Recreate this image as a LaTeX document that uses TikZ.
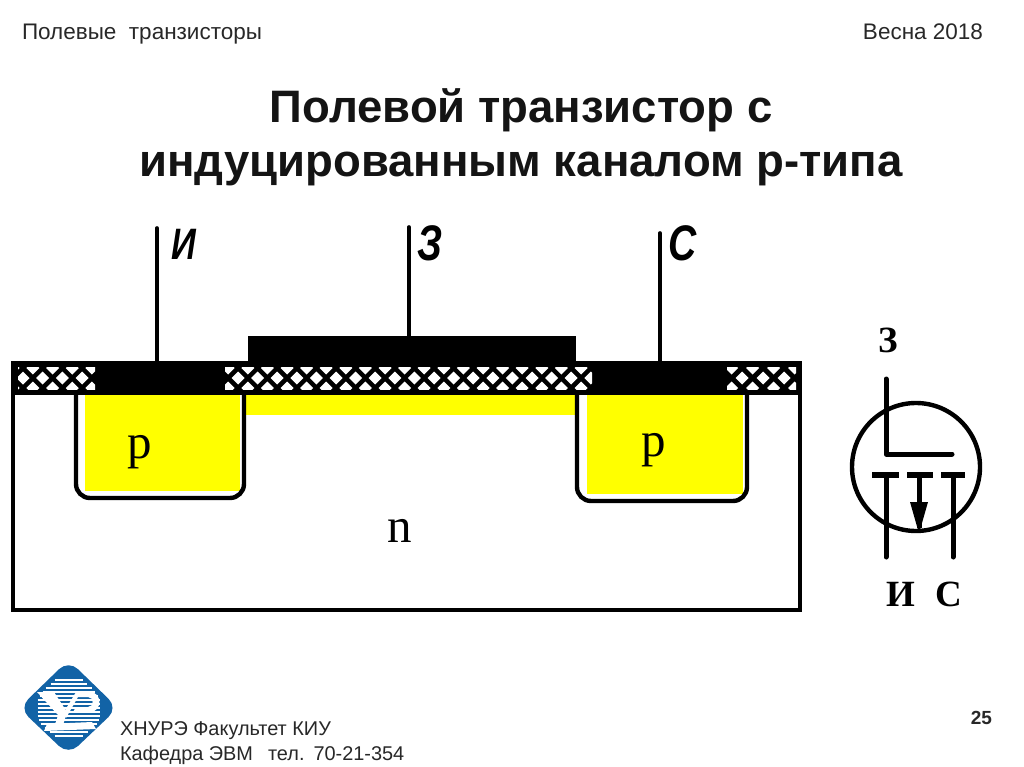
\documentclass[tikz,border=0pt]{standalone}
\usepackage{fontspec}
\usepackage{graphicx}
\setmainfont{Liberation Sans}
\newfontfamily\serifcyr{Liberation Serif}
\definecolor{yl}{RGB}{255,255,0}
\definecolor{logob}{RGB}{18,99,166}
\definecolor{hdrc}{RGB}{40,40,40}
\newcommand{\hatchrun}[3]{%
  \foreach \i in {0,...,#3} {
    \pgfmathsetmacro{\cx}{#1+#2*\i}
    \pgfmathsetmacro{\hx}{#2/2}
    \fill[white] (\cx-6.5,378) -- (\cx,371.5) -- (\cx+6.5,378) -- (\cx,384.5) -- cycle;
    \fill[white] (\cx-\hx-6.5,368) -- (\cx-\hx,361.5) -- (\cx-\hx+6.5,368) -- (\cx-\hx,374.5) -- cycle;
    \fill[white] (\cx-\hx-6.5,388) -- (\cx-\hx,381.5) -- (\cx-\hx+6.5,388) -- (\cx-\hx,394.5) -- cycle;
  }}
\newcommand{\handtxt}[2]{\fontsize{#1}{#1}\selectfont\scalebox{0.78}[1]{#2}}
\begin{document}
\begin{tikzpicture}[x=1pt,y=-1pt,
  every node/.style={inner sep=0pt,outer sep=0pt},
  hdr/.style={font=\fontsize{22.5}{22.5}\selectfont,text=hdrc},
  ttl/.style={font=\bfseries\fontsize{45.5}{45.5}\selectfont,text=black!92,anchor=base},
  ftr/.style={font=\fontsize{19.9}{19.9}\selectfont,text=hdrc,anchor=base west},
  wire/.style={line width=3.6pt,line cap=round},
  outline/.style={line width=4pt},
  well/.style={line width=4.4pt,rounded corners=14pt},
  yel/.style={fill=yl,draw=none},
  letter/.style={font=\serifcyr\fontsize{49}{49}\selectfont},
  handlab/.style={font=\bfseries\itshape},
  symlab/.style={font=\serifcyr\bfseries\fontsize{37}{37}\selectfont},
  sym/.style={line width=5pt},
  symbar/.style={line width=5.5pt}]
\useasboundingbox (0,0) rectangle (1024,767);
\fill[white] (0,0) rectangle (1024,767);

% headers and title
\node[hdr,anchor=base west] (hl) at (22,40) {Полевые\ \ транзисторы};
\node[hdr,anchor=base east] (hr) at (983,40) {Весна 2018};
\node[ttl] (t1) at (521,123) {Полевой транзистор с};
\node[ttl] (t2) at (521,177) {индуцированным каналом р-типа};

% yellow regions
\fill[yel] (85,395) rectangle (240,491);
\fill[yel] (587,395) rectangle (743,494);
\fill[yel] (246,395) rectangle (575,415);

% substrate
\draw[outline] (13,392) -- (13,610) -- (800,610) -- (800,392);

% wells
\draw[well] (76,392) -- (76,498) -- (244,498) -- (244,392);
\draw[well] (577,392) -- (577,501) -- (747,501) -- (747,392);

% oxide band with hatch
\fill[black] (11,361) rectangle (802,395);
\begin{scope}
  \clip (18,367) rectangle (95,389);
  \hatchrun{23}{19.7}{4}
\end{scope}
\begin{scope}
  \clip (225,367) rectangle (592,389);
  \hatchrun{238}{19.6}{18}
\end{scope}
\begin{scope}
  \clip (727,367) rectangle (796,389);
  \hatchrun{742}{21}{3}
\end{scope}
% metal contacts
\fill[black] (248,336) rectangle (576,362);

% terminals
\coordinate (si) at (157,361);
\coordinate (gi) at (409,337);
\coordinate (di) at (660,361);
\coordinate (sit) at (157,228);
\coordinate (git) at (409,227);
\coordinate (dit) at (660,233);
\draw[wire] (sit) -- (si);
\draw[wire] (git) -- (gi);
\draw[wire] (dit) -- (di);
\node[handlab] (li) at (184,244) {\handtxt{44}{И}};
\node[handlab] (lg) at (430,243) {\handtxt{50}{З}};
\node[handlab] (ld) at (683,243) {\handtxt{50}{С}};

% region letters
\node[letter] (p1) at (140,452) {p};
\node[letter] (p2) at (654,450) {p};
\node[letter] (nn) at (400,531) {n};

% FET symbol
\draw[line width=4.4pt] (916,467) circle (64);
\coordinate (g0) at (886,379);
\coordinate (g1) at (886,454);
\coordinate (g2) at (952,454);
\draw[sym,line cap=round,line join=round] (g0) -- (g1) -- (g2);
\draw[symbar] (872,475) -- (899,475);
\draw[symbar] (907,475) -- (933,475);
\draw[symbar] (941,475) -- (965,475);
\coordinate (s1) at (886,475); \coordinate (s2) at (886,557);
\coordinate (d1) at (953,475); \coordinate (d2) at (953,557);
\coordinate (b1) at (919,475); \coordinate (b2) at (919,528);
\draw[sym,line cap=round] (s1) -- (s2);
\draw[sym,line cap=round] (d1) -- (d2);
\draw[sym] (b1) -- (b2);
\fill[black] (910,502) -- (928,502) -- (920,530) -- (918,530) -- cycle;
\node[symlab] (sg) at (888,340) {З};
\node[symlab] (ss) at (901,594) {И};
\node[symlab] (sd) at (949,594) {С};

% logo
\fill[logob,rounded corners=13pt] (68.5,660) -- (118,708) -- (68.5,755) -- (19,708) -- cycle;
\foreach \yy/\hw in {680/14,684/18,688/23,692/26,696/29,700/31,704/31,708/31,712/31,716/31,720/30,724/28,728/24,732/19,736/14} {
  \draw[white,line width=1.1pt] (68.5-\hw,\yy) -- (68.5+\hw,\yy);
}
\fill[white] (37,692) -- (54,692) -- (67,712) -- (64,722) -- (56,722) -- (58,715) -- cycle;
\fill[white] (64,712) -- (76,692) -- (90,692) to[out=0,in=0,looseness=1.6] (90,712) -- (73,712) -- (76,707) -- (88,707) to[out=0,in=0,looseness=1.6] (88,697) -- (78,697) -- (66,718) -- cycle;
\fill[white] (47,724) -- (92,722) -- (96,729) -- (44,731) -- cycle;
\fill[white] (56,722) -- (64,722) -- (62,726) -- (52,726) -- cycle;

% footer
\node[ftr] (f1) at (120,735) {ХНУРЭ Факультет КИУ};
\node[ftr] (f2) at (120,760) {Кафедра ЭВМ\hspace{15pt}тел.\hspace{9pt}70-21-354};
\node[font=\bfseries\fontsize{19}{19}\selectfont,anchor=base east,text=hdrc] (pg) at (992,724) {25};
\end{tikzpicture}
\end{document}
